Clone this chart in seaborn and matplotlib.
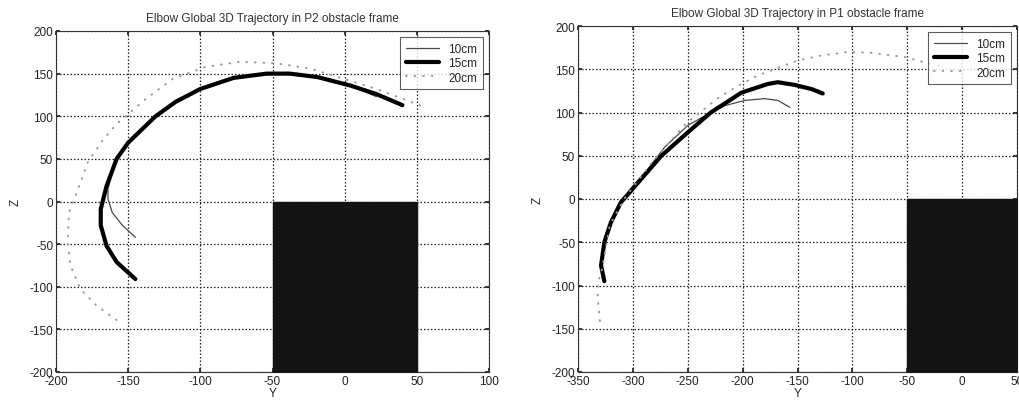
"""Elbow trajectories around the obstacle, two frames side by side."""

import matplotlib

matplotlib.use("Agg")
import matplotlib.pyplot as plt
import numpy as np
import pandas as pd
import seaborn as sns

# P2 obstacle frame (left panel)
p2_y_10 = [-145, -154, -161, -164, -164, -159, -150, -131, -117, -100, -77, -54, -38, -19, 4, 22]
p2_z_10 = [-42, -28, -13, 3, 15, 46, 69, 100, 117, 132, 145, 150, 150, 146, 136, 123]
p2_y_15 = [-145, -158, -165, -169, -169, -165, -158, -150, -131, -117, -100, -77, -54, -38, -19, 4, 22, 40]
p2_z_15 = [-91, -71, -52, -28, -9, 18, 50, 69, 100, 117, 132, 145, 150, 150, 146, 136, 126, 113]
p2_y_20 = [-158, -172, -183, -190, -192, -191, -184, -178, -168, -158, -138, -119, -96, -72, -47, -24, -1, 22, 55]
p2_z_20 = [-139, -122, -103, -75, -48, -13, 18, 46, 71, 91, 120, 144, 158, 164, 162, 156, 144, 132, 111]

# P1 obstacle frame (right panel)
p1_y_10 = [-322, -313, -302, -286, -271, -250, -229, -216, -198, -180, -168, -157]
p1_z_10 = [-33, -10, 12, 35, 60, 85, 100, 108, 114, 116, 114, 106]
p1_y_15 = [-326, -329, -326, -320, -311, -300, -274, -250, -229, -201, -177, -168, -153, -137, -127]
p1_z_15 = [-95, -77, -50, -27, -4, 12, 50, 77, 100, 123, 133, 135, 132, 127, 122]
p1_y_20 = [-330, -332, -332, -328, -321, -308, -281, -251, -221, -204, -186, -165, -150, -128, -104, -83, -52, -28, -15]
p1_z_20 = [-141, -116, -98, -80, -30, 0, 45, 88, 118, 131, 143, 153, 160, 166, 170, 169, 164, 156, 152]

obstacle_y = [-50, 50]
obstacle_z = [-200, 0]

panels = [
    {
        "title": "Elbow Global 3D Trajectory in P2 obstacle frame",
        "series": [(p2_y_10, p2_z_10), (p2_y_15, p2_z_15), (p2_y_20, p2_z_20)],
        "xlim": (-200, 100),
        "rect": [56 / 1019, 37 / 410, 433 / 1019, 341 / 410],
    },
    {
        "title": "Elbow Global 3D Trajectory in P1 obstacle frame",
        "series": [(p1_y_10, p1_z_10), (p1_y_15, p1_z_15), (p1_y_20, p1_z_20)],
        "xlim": (-350, 50),
        "rect": [578 / 1019, 37 / 410, 439 / 1019, 346 / 410],
    },
]
labels = ["10cm", "15cm", "20cm"]
styles = {
    "10cm": dict(color="#4a4a4a", linewidth=0.9),
    "15cm": dict(color="black", linewidth=3.0),
    "20cm": dict(color="#9a9a9a", linewidth=1.4, dashes=(0.4, 4.0)),
}

sns.set_theme(style="white")
plt.rcParams["font.family"] = ["Liberation Sans", "DejaVu Sans"]
plt.rcParams["font.size"] = 8.5
plt.rcParams["axes.unicode_minus"] = False

fig = plt.figure(figsize=(10.19, 4.10), dpi=100)

for panel in panels:
    ax = fig.add_axes(panel["rect"])
    for label, (ys, zs) in zip(labels, panel["series"]):
        frame = pd.DataFrame({"Y": ys, "Z": zs})
        style = dict(styles[label])
        dashes = style.pop("dashes", None)
        sns.lineplot(
            data=frame, x="Y", y="Z", sort=False, estimator=None,
            ax=ax, label=label, **style,
        )
        if dashes is not None:
            ax.lines[-1].set_dashes(dashes)
            ax.lines[-1].set_dash_capstyle("round")

    ax.fill_between(obstacle_y, obstacle_z[0], obstacle_z[1], color="#141414", zorder=3)

    ax.set_xlim(*panel["xlim"])
    ax.set_ylim(-200, 200)
    ax.set_xticks(np.arange(panel["xlim"][0], panel["xlim"][1] + 1, 50))
    ax.set_yticks(np.arange(-200, 201, 50))
    ax.grid(True, color="#222222", linestyle=(0, (1.2, 1.6)), linewidth=0.9)
    ax.set_axisbelow(True)
    ax.tick_params(direction="in", length=3, labelsize=8.5, colors="#222222",
                   top=True, right=True, bottom=True, left=True, pad=2)
    for spine in ax.spines.values():
        spine.set_color("#333333")
        spine.set_linewidth(0.8)
    ax.set_title(panel["title"], fontsize=8.5, color="#333333", pad=7)
    ax.set_xlabel("Y", fontsize=8.5, labelpad=0)
    ax.set_ylabel("Z", fontsize=8.5, labelpad=6)
    legend = ax.legend(loc="upper right", fontsize=8.5, frameon=True, fancybox=False,
                       handlelength=2.8, borderaxespad=0.5, labelspacing=0.2,
                       borderpad=0.5)
    legend.get_frame().set_edgecolor("#333333")
    legend.get_frame().set_linewidth(0.8)

fig.savefig("out.png", dpi=100)
plt.close(fig)
